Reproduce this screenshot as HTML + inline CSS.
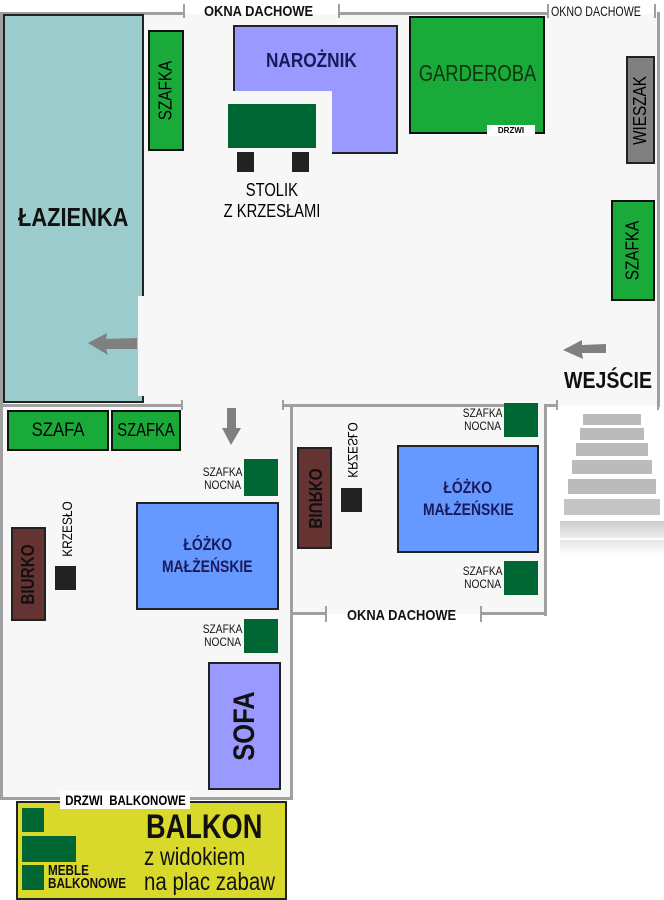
<!DOCTYPE html>
<html><head><meta charset="utf-8"><style>
*{margin:0;padding:0;box-sizing:border-box}
body{width:664px;height:900px;background:#fff;position:relative;overflow:hidden;font-family:"Liberation Sans",sans-serif}
.a{position:absolute}
.w{position:absolute;background:#a0a0a0}
.f{position:absolute;background:#f7f7f7}
.g{background:#1aaa3a;border:2px solid #111}
.dg{background:#006633}
.t{position:absolute;white-space:nowrap;color:#111;line-height:1}
.c{display:flex;align-items:center;justify-content:center;white-space:nowrap}
.r90{transform:rotate(-90deg) scaleX(.85)}
.n{display:inline-block;transform:scaleX(.82);transform-origin:left center}
</style></head><body>
<div class="f" style="left:3px;top:14px;width:654px;height:391px"></div>
<div class="f" style="left:3px;top:405px;width:287px;height:393px"></div>
<div class="f" style="left:290px;top:405px;width:255px;height:209px"></div>
<div class="w" style="left:0;top:12px;width:183px;height:3px"></div>
<div class="w" style="left:183px;top:4px;width:2px;height:14px"></div>
<div class="w" style="left:338px;top:4px;width:2px;height:14px"></div>
<div class="w" style="left:338px;top:12px;width:210px;height:3px"></div>
<div class="w" style="left:547px;top:4px;width:2px;height:14px"></div>
<div class="w" style="left:654px;top:4px;width:2px;height:14px"></div>
<div class="w" style="left:657px;top:12px;width:3px;height:395px"></div>
<div class="w" style="left:0;top:12px;width:3px;height:788px"></div>
<div class="w" style="left:0;top:404px;width:183px;height:3px"></div>
<div class="w" style="left:181px;top:400px;width:2px;height:10px"></div>
<div class="w" style="left:282px;top:400px;width:2px;height:10px"></div>
<div class="w" style="left:282px;top:404px;width:12px;height:3px"></div>
<div class="w" style="left:290px;top:404px;width:3px;height:395px"></div>
<div class="w" style="left:0;top:797px;width:293px;height:3px"></div>
<div class="w" style="left:293px;top:404px;width:240px;height:3px"></div>
<div class="w" style="left:544px;top:404px;width:3px;height:212px"></div>
<div class="w" style="left:544px;top:404px;width:12px;height:3px"></div>
<div class="w" style="left:556px;top:400px;width:2px;height:10px"></div>
<div class="w" style="left:657px;top:404px;width:2px;height:6px"></div>
<div class="w" style="left:293px;top:612px;width:32px;height:3px"></div>
<div class="w" style="left:325px;top:606px;width:2px;height:16px"></div>
<div class="w" style="left:480px;top:606px;width:2px;height:16px"></div>
<div class="w" style="left:480px;top:612px;width:67px;height:3px"></div>
<div class="t" style="left:204px;top:4px;font-size:15px;font-weight:bold"><span class="n" style="transform:scaleX(.86)">OKNA DACHOWE</span></div>
<div class="t" style="left:551px;top:4px;font-size:14px"><span class="n" style="transform:scaleX(.76)">OKNO DACHOWE</span></div>
<div class="t" style="left:347px;top:608px;font-size:15px;font-weight:bold"><span class="n" style="transform:scaleX(.86)">OKNA DACHOWE</span></div>
<div class="a" style="left:3px;top:14px;width:141px;height:389px;background:#9ccbcb;border:2px solid #222"></div>
<div class="a" style="left:138px;top:296px;width:8px;height:100px;background:#f7f7f7"></div>
<div class="t" style="left:18px;top:204px;font-size:26px;font-weight:bold"><span class="n" style="transform:scaleX(.84)">ŁAZIENKA</span></div>
<svg class="a" style="left:0;top:0" width="664" height="900">
<polygon points="88,343 107,333 106,339 137,338 137,349 106,349 108,355" fill="#808080"/>
<polygon points="563,350 582,340 582,345 606,344 606,353 582,353 583,359" fill="#808080"/>
<polygon points="231,445 222,428 227,428 227,408 236,408 236,428 241,428" fill="#808080"/>
</svg>
<div class="t" style="left:564px;top:369px;font-size:23px;font-weight:bold"><span class="n" style="transform:scaleX(.85)">WEJŚCIE</span></div>
<div class="a g c" style="left:148px;top:30px;width:36px;height:121px"><span class="r90" style="font-size:18px;display:block">SZAFKA</span></div>
<div class="a" style="left:233px;top:25px;width:165px;height:129px;background:#9999ff;border:2px solid #222"></div>
<div class="a" style="left:233px;top:91px;width:99px;height:63px;background:#f7f7f7"></div>
<div class="t" style="left:266px;top:51px;font-size:20px;font-weight:bold;color:#1a1a5a"><span class="n" style="transform:scaleX(.86)">NAROŻNIK</span></div>
<div class="a dg" style="left:228px;top:104px;width:88px;height:44px"></div>
<div class="a" style="left:237px;top:152px;width:17px;height:20px;background:#222"></div>
<div class="a" style="left:292px;top:152px;width:17px;height:20px;background:#222"></div>
<div class="a c" style="left:222px;top:180px;width:100px;font-size:18px;line-height:21px;flex-direction:column"><span style="transform:scaleX(.82)">STOLIK</span><span style="transform:scaleX(.82)">Z KRZESŁAMI</span></div>
<div class="a g c" style="left:409px;top:16px;width:136px;height:118px;font-size:23px;color:#113311;padding-bottom:4px"><span style="transform:scaleX(.8)">GARDEROBA</span></div>
<div class="a c" style="left:487px;top:125px;width:48px;height:11px;background:#fff;font-size:8px;font-weight:bold">DRZWI</div>
<div class="a c" style="left:626px;top:56px;width:29px;height:108px;background:#808080;border:2px solid #222"><span class="r90" style="font-size:18px;display:block">WIESZAK</span></div>
<div class="a g c" style="left:611px;top:200px;width:44px;height:101px"><span class="r90" style="font-size:18px;display:block">SZAFKA</span></div>
<div class="a g c" style="left:7px;top:410px;width:102px;height:41px;font-size:19px"><span style="transform:scaleX(.88)">SZAFA</span></div>
<div class="a g c" style="left:111px;top:410px;width:70px;height:41px;font-size:18px"><span style="transform:scaleX(.82)">SZAFKA</span></div>
<div class="a dg" style="left:244px;top:459px;width:34px;height:37px"></div>
<div class="t" style="left:196px;top:466px;width:45px;font-size:12px;line-height:13px;text-align:right;transform:scaleX(.85);transform-origin:right">SZAFKA<br>NOCNA</div>
<div class="a dg" style="left:244px;top:619px;width:34px;height:34px"></div>
<div class="t" style="left:196px;top:623px;width:45px;font-size:12px;line-height:13px;text-align:right;transform:scaleX(.85);transform-origin:right">SZAFKA<br>NOCNA</div>
<div class="a c" style="left:136px;top:502px;width:143px;height:108px;background:#6699ff;border:2px solid #222;font-size:17px;font-weight:bold;color:#1a1a5a;line-height:22px;flex-direction:column"><span style="transform:scaleX(.82)">ŁÓŻKO</span><span style="transform:scaleX(.82)">MAŁŻEŃSKIE</span></div>
<div class="a c" style="left:11px;top:527px;width:35px;height:94px;background:#663333;border:2px solid #222"><span class="r90" style="font-size:18px;font-weight:bold;display:block;color:#111">BIURKO</span></div>
<div class="a" style="left:55px;top:566px;width:21px;height:24px;background:#222"></div>
<div class="a c" style="left:37px;top:522px;width:60px;height:14px;font-size:14px;transform:rotate(-90deg) scaleX(.85)">KRZESŁO</div>
<div class="a c" style="left:208px;top:662px;width:73px;height:128px;background:#9999ff;border:2px solid #222"><span class="r90" style="font-size:30px;font-weight:bold;display:block;color:#111">SOFA</span></div>
<div class="a dg" style="left:504px;top:403px;width:34px;height:34px"></div>
<div class="t" style="left:456px;top:407px;width:45px;font-size:12px;line-height:13px;text-align:right;transform:scaleX(.85);transform-origin:right">SZAFKA<br>NOCNA</div>
<div class="a dg" style="left:504px;top:561px;width:34px;height:34px"></div>
<div class="t" style="left:456px;top:565px;width:45px;font-size:12px;line-height:13px;text-align:right;transform:scaleX(.85);transform-origin:right">SZAFKA<br>NOCNA</div>
<div class="a c" style="left:397px;top:445px;width:142px;height:108px;background:#6699ff;border:2px solid #222;font-size:17px;font-weight:bold;color:#1a1a5a;line-height:22px;flex-direction:column"><span style="transform:scaleX(.82)">ŁÓŻKO</span><span style="transform:scaleX(.82)">MAŁŻEŃSKIE</span></div>
<div class="a c" style="left:297px;top:447px;width:35px;height:102px;background:#663333;border:2px solid #222"><span style="transform:rotate(90deg) scaleX(-.85);font-size:18px;font-weight:bold;display:block;color:#111">BIURKO</span></div>
<div class="a" style="left:341px;top:488px;width:21px;height:24px;background:#222"></div>
<div class="a c" style="left:323px;top:443px;width:60px;height:14px;font-size:14px;transform:rotate(90deg) scaleX(-.85)">KRZESŁO</div>
<div class="a" style="left:583px;top:414px;width:58px;height:11px;background:#bbb"></div>
<div class="a" style="left:580px;top:428px;width:64px;height:12px;background:#bbb"></div>
<div class="a" style="left:576px;top:443px;width:72px;height:13px;background:#bbb"></div>
<div class="a" style="left:572px;top:460px;width:80px;height:14px;background:#bbb"></div>
<div class="a" style="left:568px;top:479px;width:88px;height:15px;background:#bbb"></div>
<div class="a" style="left:564px;top:499px;width:96px;height:16px;background:#c4c4c4"></div>
<div class="a" style="left:560px;top:521px;width:104px;height:17px;background:linear-gradient(#ccc,#eee)"></div>
<div class="a" style="left:560px;top:540px;width:104px;height:16px;background:linear-gradient(#e6e6e6,#fff)"></div>
<div class="a" style="left:16px;top:801px;width:271px;height:99px;background:#d9d92c;border:2px solid #222"></div>
<div class="a c" style="left:60px;top:791px;width:130px;height:18px;background:#fff;font-size:14px;font-weight:bold"><span style="transform:scaleX(.82)">DRZWI &nbsp;BALKONOWE</span></div>
<div class="a dg" style="left:22px;top:808px;width:22px;height:24px"></div>
<div class="a dg" style="left:22px;top:836px;width:54px;height:26px"></div>
<div class="a dg" style="left:22px;top:865px;width:22px;height:25px"></div>
<div class="t" style="left:48px;top:864px;font-size:15px;font-weight:bold;line-height:13px;transform:scaleX(.78);transform-origin:left">MEBLE<br>BALKONOWE</div>
<div class="t" style="left:146px;top:810px;font-size:34px;font-weight:bold"><span class="n" style="transform:scaleX(.8)">BALKON</span></div>
<div class="t" style="left:144px;top:845px;font-size:25px;line-height:25px;transform:scaleX(.82);transform-origin:left">z widokiem<br>na plac zabaw</div>
</body></html>
